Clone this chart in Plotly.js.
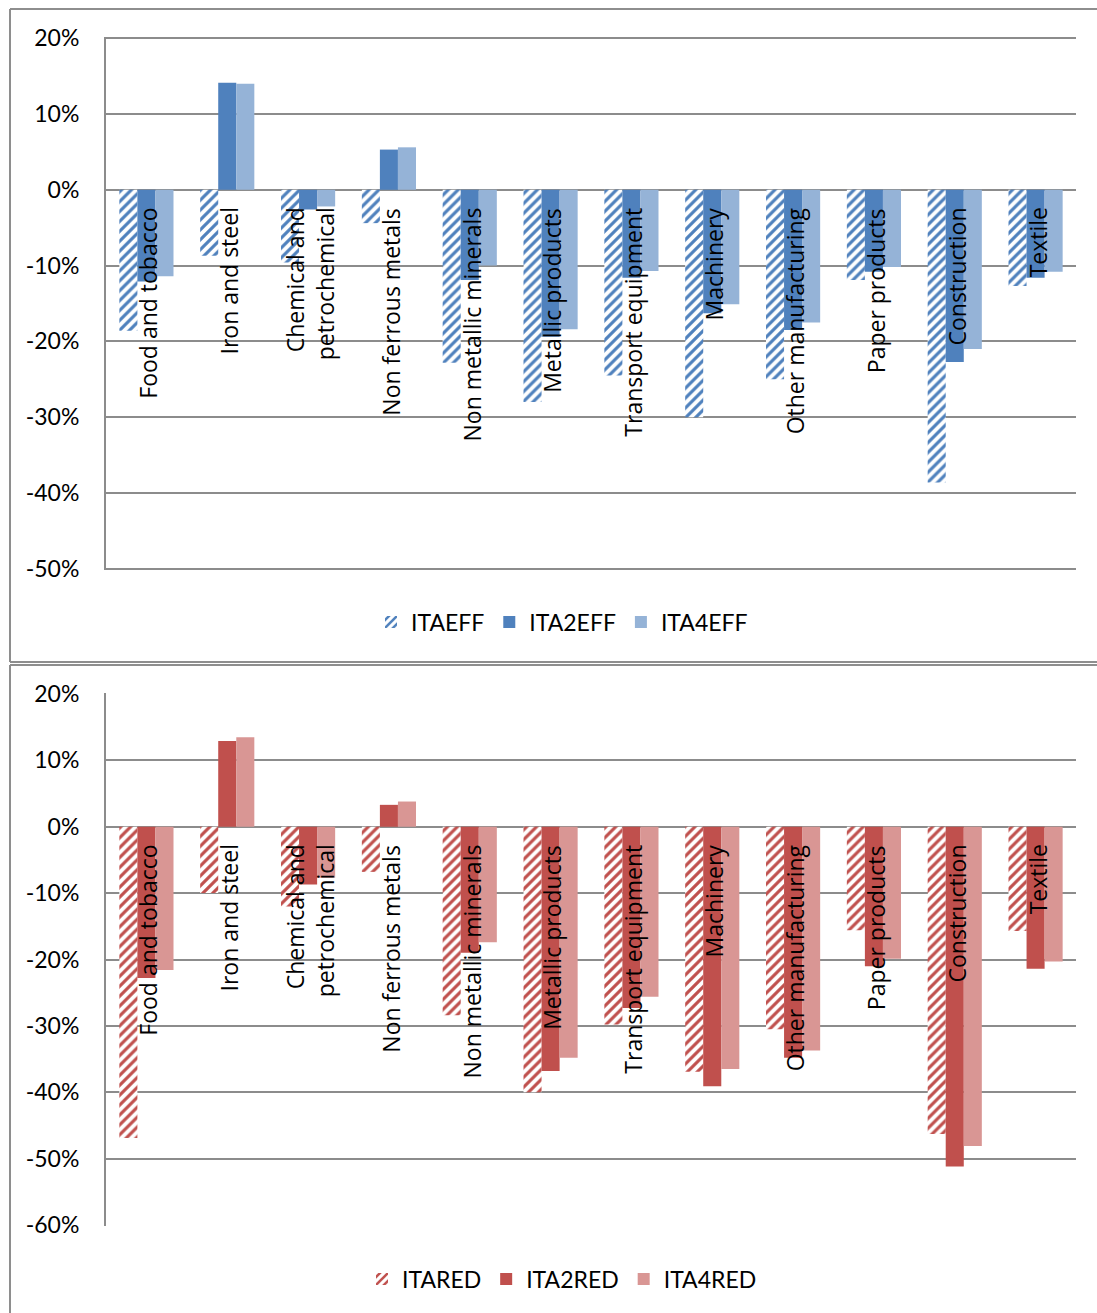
<!DOCTYPE html>
<html>
<head>
<meta charset="utf-8">
<script src="https://cdn.plot.ly/plotly-3.0.1.min.js"></script>
<style>
  html, body { margin: 0; padding: 0; background: #ffffff; }
  #chart { width: 1097px; height: 1313px; }
</style>
</head>
<body>
<div id="chart"></div>
<script>
// ---- Data (percent) ----
const categories = [
  "Food and tobacco", "Iron and steel", "Chemical and<br>petrochemical", "Non ferrous metals",
  "Non metallic minerals", "Metallic products", "Transport equipment", "Machinery",
  "Other manufacturing", "Paper products", "Construction", "Textile"
];
const catKeys = categories.map((c, i) => "c" + i);

const ITAEFF  = [-18.6, -8.7, -9.6, -4.4, -22.8, -28.0, -24.5, -30.0, -25.0, -11.9, -38.6, -12.7];
const ITA2EFF = [-12.1, 14.1, -2.6,  5.3, -11.9, -19.4, -11.6, -16.3, -18.5, -10.8, -22.7, -11.6];
const ITA4EFF = [-11.4, 14.0, -2.2,  5.6, -10.0, -18.4, -10.7, -15.1, -17.5, -10.2, -21.0, -10.8];

const ITARED  = [-46.9, -10.0, -12.0, -6.8, -28.4, -40.0, -29.8, -36.9, -30.5, -15.6, -46.3, -15.7];
const ITA2RED = [-22.8,  12.9,  -8.7,  3.3, -19.0, -36.8, -27.3, -39.1, -34.8, -21.0, -51.2, -21.4];
const ITA4RED = [-21.6,  13.5,  -7.7,  3.8, -17.4, -34.8, -25.6, -36.5, -33.7, -19.9, -48.1, -20.3];

const topTicks = [20, 10, 0, -10, -20, -30, -40, -50];
const botTicks = [20, 10, 0, -10, -20, -30, -40, -50, -60];

// ---- Styles ----
const W = 1097, H = 1313;
const blueDark = "#4F81BD", blueLight = "#95B3D7";
const redDark = "#C0504D", redLight = "#D99694";
const gridCol = "#8C8C8C";
const tickFont = { family: "Lato, 'Liberation Sans', sans-serif", size: 23, color: "#000" };
const catFont = { family: "'Open Sans', 'DejaVu Sans', sans-serif", size: 23, color: "#000" };
const py = px => 1 - px / H;
const pxX = px => px / W;

function hatched(name, y, color, xa, ya, legend) {
  return {
    type: "bar", name: name, x: catKeys, y: y, xaxis: xa, yaxis: ya, legend: legend,
    marker: { color: color, line: { width: 0 },
      pattern: { shape: "/", fillmode: "replace", fgcolor: color, bgcolor: "#ffffff", size: 7, solidity: 0.45 } },
    hoverinfo: "skip"
  };
}
function solid(name, y, color, xa, ya, legend) {
  return {
    type: "bar", name: name, x: catKeys, y: y, xaxis: xa, yaxis: ya, legend: legend,
    marker: { color: color, line: { width: 0 } }, hoverinfo: "skip"
  };
}

const data = [
  hatched("ITAEFF", ITAEFF, blueDark, "x", "y", "legend"),
  solid("ITA2EFF", ITA2EFF, blueDark, "x", "y", "legend"),
  solid("ITA4EFF", ITA4EFF, blueLight, "x", "y", "legend"),
  hatched("ITARED", ITARED, redDark, "x2", "y2", "legend2"),
  solid("ITA2RED", ITA2RED, redDark, "x2", "y2", "legend2"),
  solid("ITA4RED", ITA4RED, redLight, "x2", "y2", "legend2")
];

function yaxis(range, ticks, domain, anchor) {
  return {
    domain: domain, anchor: anchor, range: range, tickmode: "array",
    tickvals: ticks, ticktext: ticks.map(t => t + "%"),
    showgrid: true, gridcolor: gridCol, gridwidth: 2,
    zeroline: false, showline: true, linecolor: gridCol, linewidth: 2,
    ticks: "", ticklabelstandoff: 20, tickfont: tickFont, fixedrange: true
  };
}
function xaxis(domain, anchor) {
  return {
    domain: domain, anchor: anchor, type: "category", range: [-0.5, 11.5],
    showticklabels: false, showgrid: false, zeroline: false, showline: false, ticks: "", fixedrange: true
  };
}

const xDom = [pxX(106), pxX(1076)];
const annotations = [];
categories.forEach((c, i) => {
  ["x", "x2"].forEach((xa, k) => {
    annotations.push({
      x: catKeys[i], y: 0, xref: xa, yref: k === 0 ? "y" : "y2",
      text: c, textangle: -90, showarrow: false, xanchor: "center", yanchor: "top",
      yshift: -16, xshift: 2, align: "right", font: catFont
    });
  });
});

const bc = "#8E8E8E";
const shapes = [
  // top panel frame
  { type: "line", xref: "paper", yref: "paper", x0: pxX(10), x1: 1.01, y0: py(9), y1: py(9), line: { color: bc, width: 2 } },
  { type: "line", xref: "paper", yref: "paper", x0: pxX(10), x1: pxX(10), y0: py(9), y1: py(662), line: { color: bc, width: 2 } },
  { type: "line", xref: "paper", yref: "paper", x0: pxX(10), x1: 1.01, y0: py(662), y1: py(662), line: { color: bc, width: 2 } },
  // bottom panel frame
  { type: "line", xref: "paper", yref: "paper", x0: pxX(10), x1: 1.01, y0: py(665), y1: py(665), line: { color: bc, width: 2 } },
  { type: "line", xref: "paper", yref: "paper", x0: pxX(10), x1: pxX(10), y0: py(665), y1: -0.01, line: { color: bc, width: 2 } }
];

const legendFont = { family: "Lato, 'Liberation Sans', sans-serif", size: 23, color: "#000" };
const layout = {
  width: W, height: H,
  margin: { l: 0, r: 0, t: 0, b: 0 },
  paper_bgcolor: "#ffffff", plot_bgcolor: "#ffffff",
  barmode: "group", bargap: 0.33, bargroupgap: 0,
  xaxis: xaxis(xDom, "y"),
  yaxis: yaxis([-50.15, 20.15], topTicks, [py(570), py(37)], "x"),
  xaxis2: xaxis(xDom, "y2"),
  yaxis2: yaxis([-60.15, 20.15], botTicks, [py(1226), py(693)], "x2"),
  legend: { orientation: "h", x: pxX(562), xanchor: "center", y: py(622), yanchor: "middle",
            font: legendFont, bgcolor: "rgba(0,0,0,0)", traceorder: "normal", itemwidth: 30 },
  legend2: { orientation: "h", x: pxX(562), xanchor: "center", y: py(1279), yanchor: "middle",
            font: legendFont, bgcolor: "rgba(0,0,0,0)", traceorder: "normal", itemwidth: 30 },
  showlegend: true,
  annotations: annotations,
  shapes: shapes
};

Plotly.newPlot("chart", data, layout, { staticPlot: true, displayModeBar: false });
</script>
</body>
</html>
